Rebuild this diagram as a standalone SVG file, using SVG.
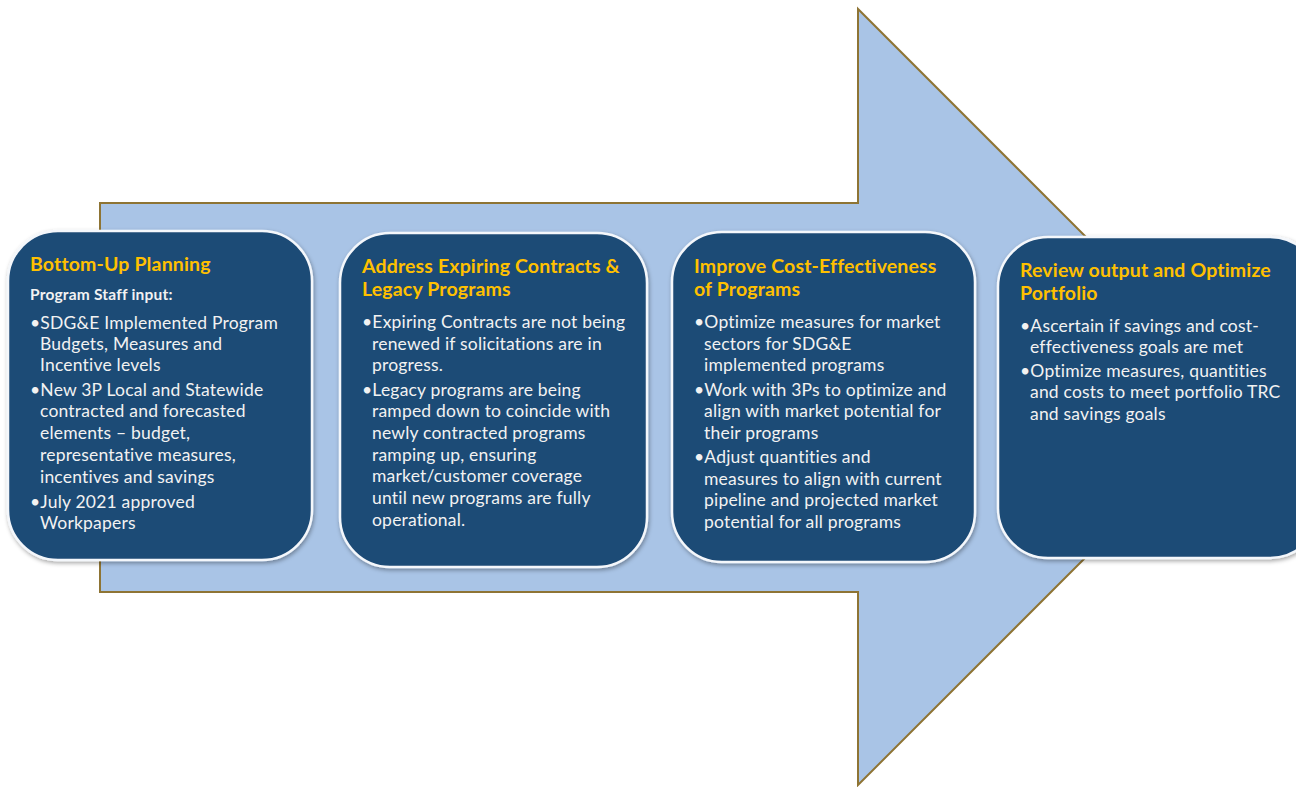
<svg xmlns="http://www.w3.org/2000/svg" width="1296" height="787" viewBox="0 0 1296 787">
<defs>
<filter id="sh" x="-10%" y="-10%" width="120%" height="120%">
<feDropShadow dx="1" dy="2" stdDeviation="2" flood-color="#000" flood-opacity="0.35"/>
</filter>
</defs>
<style>
.box{fill:#1F4B76;stroke:#F4F7FB;stroke-width:2.5;filter:url(#sh)}
.t{font-family:Lato,"Liberation Sans",sans-serif;font-weight:bold;font-size:19.5px;letter-spacing:0.15px;fill:#FFC000}
.b{font-family:Lato,"Liberation Sans",sans-serif;font-size:17.5px;letter-spacing:0.2px;fill:#F2F2F2}
.s{font-family:Lato,"Liberation Sans",sans-serif;font-weight:bold;font-size:15.5px;letter-spacing:0.2px;fill:#F2F2F2}
</style>
<rect width="1296" height="787" fill="#FFFFFF"/>
<g id="arrow">
<path d="M100,203 H858 V9 L1246,397 L858,785 V592 H100 Z" fill="#A9C4E6" stroke="#8E7434" stroke-width="2" stroke-linejoin="miter"/>
</g>
<g id="connectors"></g>
<g id="node1">
<rect class="box" x="8" y="231" width="304" height="329" rx="50"/>
<text class="t" x="30" y="271">Bottom-Up Planning</text>
<text class="s" x="30" y="300">Program Staff input:</text>
<text class="b" x="30" y="329">•SDG&amp;E Implemented Program</text>
<text class="b" x="40" y="350">Budgets, Measures and</text>
<text class="b" x="40" y="371">Incentive levels</text>
<text class="b" x="30" y="396">•New 3P Local and Statewide</text>
<text class="b" x="40" y="417">contracted and forecasted</text>
<text class="b" x="40" y="439">elements – budget,</text>
<text class="b" x="40" y="461">representative measures,</text>
<text class="b" x="40" y="483">incentives and savings</text>
<text class="b" x="30" y="508">•July 2021 approved</text>
<text class="b" x="40" y="529">Workpapers</text>
</g>
<g id="node2">
<rect class="box" x="340" y="233" width="307" height="334" rx="50"/>
<text class="t" x="362" y="273">Address Expiring Contracts &amp;</text>
<text class="t" x="362" y="296">Legacy Programs</text>
<text class="b" x="362" y="328">•Expiring Contracts are not being</text>
<text class="b" x="372" y="350">renewed if solicitations are in</text>
<text class="b" x="372" y="371">progress.</text>
<text class="b" x="362" y="396">•Legacy programs are being</text>
<text class="b" x="372" y="417">ramped down to coincide with</text>
<text class="b" x="372" y="439">newly contracted programs</text>
<text class="b" x="372" y="461">ramping up, ensuring</text>
<text class="b" x="372" y="482">market/customer coverage</text>
<text class="b" x="372" y="504">until new programs are fully</text>
<text class="b" x="372" y="526">operational.</text>
</g>
<g id="node3">
<rect class="box" x="672" y="232" width="303" height="330" rx="50"/>
<text class="t" x="694" y="273">Improve Cost-Effectiveness</text>
<text class="t" x="694" y="296">of Programs</text>
<text class="b" x="694" y="328">•Optimize measures for market</text>
<text class="b" x="704" y="350">sectors for SDG&amp;E</text>
<text class="b" x="704" y="371">implemented programs</text>
<text class="b" x="694" y="396">•Work with 3Ps to optimize and</text>
<text class="b" x="704" y="417">align with market potential for</text>
<text class="b" x="704" y="439">their programs</text>
<text class="b" x="694" y="463">•Adjust quantities and</text>
<text class="b" x="704" y="485">measures to align with current</text>
<text class="b" x="704" y="506">pipeline and projected market</text>
<text class="b" x="704" y="528">potential for all programs</text>
</g>
<g id="node4">
<rect class="box" x="998" y="237" width="322" height="321" rx="50"/>
<text class="t" x="1020" y="277">Review output and Optimize</text>
<text class="t" x="1020" y="300">Portfolio</text>
<text class="b" x="1020" y="332">•Ascertain if savings and cost-</text>
<text class="b" x="1030" y="353">effectiveness goals are met</text>
<text class="b" x="1020" y="377">•Optimize measures, quantities</text>
<text class="b" x="1030" y="398">and costs to meet portfolio TRC</text>
<text class="b" x="1030" y="420">and savings goals</text>
</g>
</svg>
